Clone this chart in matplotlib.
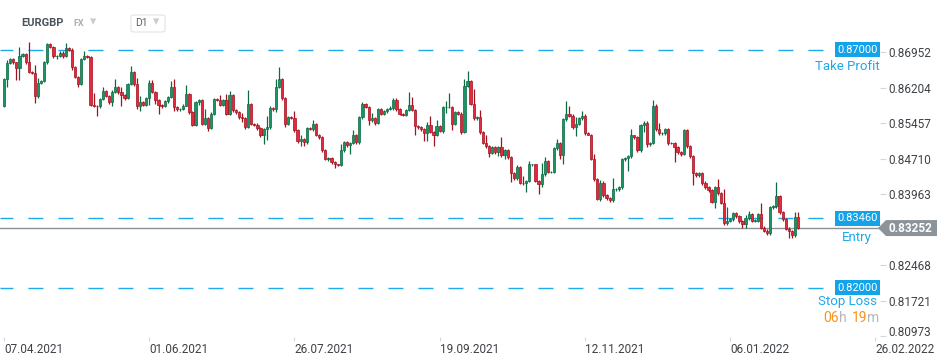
import numpy as np
import matplotlib
matplotlib.use("Agg")
import matplotlib.pyplot as plt
import matplotlib.transforms as mtransforms
from matplotlib.patches import Polygon, FancyBboxPatch

plt.rcParams["font.family"] = ["Roboto", "DejaVu Sans"]
plt.rcParams["lines.scale_dashes"] = False

# EURGBP daily candles (open = previous close)
first_open = 0.8581
closes = [
    # Apr - May 2021
    0.8638, 0.8672, 0.8680, 0.8674, 0.8662, 0.8687, 0.8691, 0.8674, 0.8653, 0.8651,
    0.8603, 0.8630, 0.8634, 0.8674, 0.8712, 0.8706, 0.8687, 0.8688, 0.8694, 0.8687,
    0.8704, 0.8699, 0.8664, 0.8643, 0.8628, 0.8680, 0.8687, 0.8685, 0.8585, 0.8583,
    0.8581, 0.8596, 0.8613, 0.8603, 0.8590, 0.8611, 0.8622, 0.8611, 0.8605, 0.8598,
    0.8628, 0.8653, 0.8628,
    # Jun - Jul 2021
    0.8581, 0.8590, 0.8585, 0.8598, 0.8630, 0.8611, 0.8594, 0.8585, 0.8581, 0.8592,
    0.8601, 0.8622, 0.8579, 0.8575, 0.8575, 0.8583, 0.8607, 0.8569, 0.8541, 0.8590,
    0.8594, 0.8545, 0.8556, 0.8535, 0.8566, 0.8596, 0.8594, 0.8585, 0.8594, 0.8566,
    0.8605, 0.8573, 0.8569, 0.8558, 0.8556, 0.8537, 0.8587, 0.8545, 0.8543, 0.8535,
    0.8520, 0.8533, 0.8537, 0.8577,
    # Jul - Sep 2021
    0.8575, 0.8622, 0.8638, 0.8598, 0.8545, 0.8558, 0.8556, 0.8531, 0.8508, 0.8512,
    0.8506, 0.8535, 0.8533, 0.8545, 0.8522, 0.8516, 0.8489, 0.8470, 0.8472, 0.8464,
    0.8459, 0.8457, 0.8489, 0.8506, 0.8499, 0.8504, 0.8520, 0.8506, 0.8558, 0.8587,
    0.8579, 0.8552, 0.8556, 0.8547, 0.8575, 0.8566, 0.8571, 0.8575, 0.8577, 0.8594,
    0.8575, 0.8566, 0.8564,
    # Sep - Nov 2021
    0.8573, 0.8585, 0.8573, 0.8539, 0.8537, 0.8533, 0.8525, 0.8543, 0.8527, 0.8520,
    0.8539, 0.8529, 0.8579, 0.8579, 0.8579, 0.8545, 0.8569, 0.8566, 0.8527, 0.8624,
    0.8634, 0.8587, 0.8556, 0.8558, 0.8527, 0.8504, 0.8497, 0.8483, 0.8495, 0.8485,
    0.8495, 0.8478, 0.8489, 0.8474, 0.8440, 0.8430, 0.8453, 0.8421, 0.8419, 0.8425,
    0.8459, 0.8459, 0.8425, 0.8417,
    # Nov 2021 - Jan 2022
    0.8438, 0.8466, 0.8443, 0.8443, 0.8493, 0.8504, 0.8478, 0.8554, 0.8566, 0.8562,
    0.8537, 0.8545, 0.8556, 0.8562, 0.8525, 0.8522, 0.8470, 0.8428, 0.8386, 0.8419,
    0.8394, 0.8388, 0.8384, 0.8407, 0.8407, 0.8411, 0.8470, 0.8472, 0.8476, 0.8520,
    0.8516, 0.8489, 0.8541, 0.8547, 0.8501, 0.8504, 0.8583, 0.8533, 0.8525, 0.8525,
    0.8533, 0.8504, 0.8504, 0.8495,
    # Jan 2022
    0.8485, 0.8481, 0.8531, 0.8497, 0.8476, 0.8440, 0.8436, 0.8440, 0.8419, 0.8411,
    0.8405, 0.8380, 0.8411, 0.8398, 0.8378, 0.8335, 0.8341, 0.8344, 0.8356, 0.8350,
    0.8339, 0.8333, 0.8346, 0.8354, 0.8341, 0.8341, 0.8354, 0.8326, 0.8320, 0.8314,
    0.8369, 0.8371, 0.8392, 0.8358, 0.8344, 0.8324, 0.8318, 0.8310, 0.8348, 0.83252,
]

# wick lengths above / below the body, in pips
wick_hi = [
    2, 6, 4, 3, 0, 20, 3, 2, 42, 2, 17, 10, 3, 2, 2, 2, 3, 2, 3, 4, 10, 3, 4, 3, 2, 3, 10, 2, 2, 25,
    2, 3, 9, 2, 2, 4, 17, 3, 10, 3, 3, 14, 2,
    12, 14, 3, 3, 7, 7, 2, 2, 2, 3, 3, 12, 16, 2, 3, 4, 20, 2, 3, 2, 3, 2, 20, 2, 3, 3, 3, 12, 3, 14,
    8, 2, 2, 2, 10, 3, 28, 2, 2, 4, 3, 3, 24, 4,
    2, 17, 27, 3, 2, 3, 2, 15, 2, 8, 2, 2, 2, 8, 2, 2, 2, 2, 3, 3, 2, 2, 14, 3, 2, 2, 12, 3, 3, 3,
    2, 2, 11, 2, 3, 3, 2, 3, 4, 5, 4, 3, 2,
    3, 26, 15, 2, 2, 3, 2, 6, 19, 2, 13, 2, 3, 14, 31, 2, 2, 2, 3, 14, 21, 3, 30, 3, 16, 2, 17, 2, 3, 2,
    3, 22, 3, 3, 2, 3, 5, 3, 14, 2, 8, 2, 2, 2,
    25, 8, 2, 3, 3, 8, 3, 3, 26, 16, 3, 13, 3, 9, 3, 2, 2, 10, 2, 7, 5, 3, 2, 23, 3, 3, 3, 3, 3, 14,
    2, 3, 3, 3, 3, 3, 12, 3, 14, 3, 3, 3, 3, 3,
    3, 3, 3, 3, 3, 3, 3, 3, 4, 6, 3, 3, 3, 17, 3, 29, 28, 3, 2, 3, 3, 3, 7, 8, 3, 3, 3, 24, 3, 3,
    3, 3, 30, 3, 3, 3, 3, 3, 10, 10,
]
wick_lo = [
    2, 17, 2, 3, 25, 25, 2, 3, 1, 2, 15, 4, 2, 2, 4, 2, 3, 6, 2, 3, 2, 2, 7, 3, 7, 2, 2, 3, 2, 4,
    21, 3, 2, 3, 3, 9, 2, 3, 22, 3, 2, 2, 3,
    6, 10, 2, 2, 14, 2, 8, 20, 3, 2, 3, 3, 7, 3, 4, 2, 2, 3, 2, 2, 5, 3, 3, 5, 2, 2, 2, 2, 2, 2,
    2, 3, 3, 3, 8, 3, 2, 3, 4, 4, 4, 17, 22, 4,
    3, 5, 2, 3, 7, 3, 2, 3, 3, 10, 8, 3, 2, 3, 3, 3, 3, 2, 3, 3, 8, 2, 2, 3, 3, 17, 3, 3, 3, 3,
    2, 10, 3, 5, 3, 3, 3, 3, 2, 3, 3, 3, 3,
    3, 2, 2, 19, 3, 3, 17, 17, 2, 23, 2, 2, 3, 11, 2, 14, 2, 2, 3, 2, 2, 3, 3, 3, 3, 3, 3, 8, 3, 3,
    8, 3, 8, 4, 17, 3, 3, 3, 3, 17, 3, 3, 3, 20,
    5, 3, 3, 3, 3, 3, 7, 19, 3, 3, 3, 18, 3, 3, 3, 2, 2, 3, 2, 3, 3, 3, 3, 3, 3, 3, 3, 3, 26, 3,
    3, 3, 3, 14, 5, 3, 3, 3, 3, 3, 3, 5, 3, 30,
    3, 5, 3, 3, 3, 25, 3, 3, 3, 3, 3, 3, 12, 3, 3, 3, 3, 3, 3, 3, 3, 8, 7, 3, 3, 3, 3, 3, 3, 3,
    3, 3, 3, 3, 3, 3, 14, 5, 3, 3,
]

date_labels = ["07.04.2021", "01.06.2021", "26.07.2021", "19.09.2021",
               "12.11.2021", "06.01.2022", "26.02.2022"]
date_step = 47  # candles between date labels
price_ticks = [0.86952, 0.86204, 0.85457, 0.84710, 0.83963, 0.82468, 0.81721, 0.80973]

take_profit = 0.87000
entry = 0.83460
stop_loss = 0.82000
last_price = closes[-1]

# ------------------------------------------------------------------
c = np.array(closes)
o = np.concatenate([[first_open], c[:-1]])
hi = np.maximum(o, c) + np.array(wick_hi) * 1e-4
lo = np.minimum(o, c) - np.array(wick_lo) * 1e-4
x = np.arange(len(c))
up = c >= o

W, H = 950, 361
fig = plt.figure(figsize=(W / 100, H / 100), dpi=100)
ax = fig.add_axes([0, 24 / H, 880 / W, 337 / H])
ax.set_xlim(-1.3, 283.5)
ax.set_ylim(0.8096, 0.8805)
for s in ax.spines.values():
    s.set_visible(False)

GREEN, GREEN_E = "#1b9463", "#0c6a43"
RED, RED_E = "#e2293d", "#a5121f"
BLUE = "#1ea9ea"

ax.vlines(x[up], lo[up], hi[up], color=GREEN_E, lw=0.9, zorder=2)
ax.vlines(x[~up], lo[~up], hi[~up], color=RED_E, lw=0.9, zorder=2)
body_h = np.maximum(np.abs(c - o), 0.00008)
body_b = np.minimum(o, c)
ax.bar(x[up], body_h[up], bottom=body_b[up], width=0.72,
       color=GREEN, edgecolor=GREEN_E, linewidth=0.5, zorder=3)
ax.bar(x[~up], body_h[~up], bottom=body_b[~up], width=0.72,
       color=RED, edgecolor=RED_E, linewidth=0.5, zorder=3)

# order lines
for lvl in (take_profit, entry, stop_loss):
    ax.axhline(lvl, xmin=0, xmax=827 / 880, color=BLUE, lw=1.0,
               linestyle=(1.5, (10.8, 10.8)), zorder=1)
ax.axhline(last_price, color="#8a9298", lw=1.0, zorder=1)

bt = mtransforms.blended_transform_factory(fig.transFigure, ax.transData)
px_price = 1 / 4752  # price units per pixel
for lvl, name, nx, dy in ((take_profit, "Take Profit", 880, 17),
                          (entry, "Entry", 872, 19),
                          (stop_loss, "Stop Loss", 877, 14)):
    ax.text(857.5 / W, lvl, f"{lvl:.5f}", transform=bt, ha="center", va="center",
            color="white", fontsize=8,
            bbox=dict(boxstyle="square,pad=0.22", fc="#12a3e8", ec="none"),
            clip_on=False, zorder=5)
    ax.text(nx / W, lvl - dy * px_price, name, transform=bt, ha="right", va="center",
            color=BLUE, fontsize=9.5, clip_on=False)

# countdown under stop loss
cy = 1 - 318 / H
for txt, px, col in (("06", 823, "#f7941d"), ("h", 838.5, "#b4b8bc"),
                     ("19", 851.5, "#f7941d"), ("m", 867.5, "#b4b8bc")):
    fig.text(px / W, cy, txt, color=col, fontsize=10, ha="left", va="center")

# current price tag
h = 8 * px_price
tag = Polygon([(878 / W, last_price), (886 / W, last_price + h), (937 / W, last_price + h),
               (937 / W, last_price - h), (886 / W, last_price - h)],
              closed=True, transform=bt, fc="#8c949a", ec="none", clip_on=False, zorder=6)
ax.add_patch(tag)
ax.text(910 / W, last_price, f"{last_price:.5f}", transform=bt, ha="center", va="center",
        color="white", fontsize=8.5, fontweight="bold", clip_on=False, zorder=7)

# axes ticks
ax.yaxis.tick_right()
ax.set_yticks(price_ticks)
ax.set_yticklabels([f"{v:.5f}" for v in price_ticks])
ax.tick_params(axis="y", length=4, width=0.8, color="#d5d8db", pad=2,
               labelsize=8.5, labelcolor="#3d4247")
last_lab = ax.get_yticklabels()[-1]
last_lab.set_transform(last_lab.get_transform() +
                       mtransforms.ScaledTranslation(0, 5 / 100, fig.dpi_scale_trans))

ax.set_xticks(np.arange(len(date_labels)) * date_step)
ax.set_xticklabels(date_labels)
ax.tick_params(axis="x", length=3, width=0.8, color="#d5d8db", pad=1,
               labelsize=8.5, labelcolor="#3d4247")
for lab in ax.get_xticklabels():
    lab.set_ha("left")

# header
fig.text(21 / W, 1 - 23 / H, "EURGBP", fontsize=8, fontweight="bold",
         color="#4b545c", va="center")
fig.text(73 / W, 1 - 24 / H, "FX", fontsize=6.5, fontweight="bold",
         color="#a7aeb4", va="center")
fig.text(90 / W, 1 - 22 / H, "\u25BE", fontsize=9, color="#c9cdd0", va="center")
box = FancyBboxPatch((131 / W, 1 - 32 / H), 34 / W, 17 / H,
                     boxstyle="round,pad=0,rounding_size=0.004",
                     transform=fig.transFigure, fc="white", ec="#e1e4e6", lw=0.8)
fig.patches.append(box)
fig.text(135 / W, 1 - 23.5 / H, "D1", fontsize=7.5, color="#59626a", va="center")
fig.text(153 / W, 1 - 22 / H, "\u25BE", fontsize=9, color="#c9cdd0", va="center")

fig.savefig("out.png", dpi=100)
